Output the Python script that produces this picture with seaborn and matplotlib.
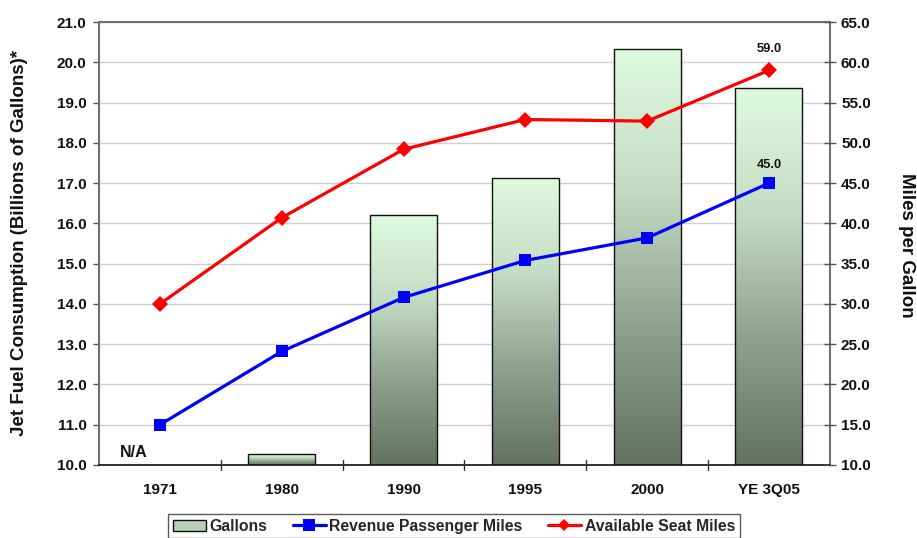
import numpy as np
import pandas as pd
import matplotlib
matplotlib.use("Agg")
import matplotlib.pyplot as plt
from matplotlib.colors import LinearSegmentedColormap
from matplotlib.lines import Line2D
from matplotlib.patches import Patch
import seaborn as sns

# Data
categories = ["1971", "1980", "1990", "1995", "2000", "YE 3Q05"]
gallons = [np.nan, 10.27, 16.22, 17.13, 20.32, 19.35]          # billions of gallons (1971 N/A)
revenue_passenger_miles = [15.0, 24.1, 30.8, 35.4, 38.2, 45.0]  # miles per gallon
available_seat_miles = [30.0, 40.7, 49.2, 52.9, 52.7, 59.0]     # miles per gallon
left_ticks = [10.0, 11.0, 12.0, 13.0, 14.0, 15.0, 16.0, 17.0, 18.0, 19.0, 20.0, 21.0]
right_ticks = [10.0, 15.0, 20.0, 25.0, 30.0, 35.0, 40.0, 45.0, 50.0, 55.0, 60.0, 65.0]

sns.set_theme(style="white")
plt.rcParams["font.family"] = ["Liberation Sans", "DejaVu Sans"]
plt.rcParams["font.weight"] = "bold"

df = pd.DataFrame({"category": categories, "gallons": gallons})
bar_df = df.dropna()

fig = plt.figure(figsize=(9.17, 5.38), dpi=100)
ax = fig.add_axes([0.108, 0.1357, 0.797, 0.8233])

sns.barplot(data=bar_df, x="category", y="gallons", order=categories,
            width=0.55, color="#cfe8cf", edgecolor="#111111", linewidth=1.0,
            ax=ax, zorder=2)

# Gradient fill for each bar: light green at the top fading to dark grey-green
grad_cmap = LinearSegmentedColormap.from_list(
    "gal", ["#637263", "#8ea18e", "#c4dcc4", "#defbde"])
gradient = np.linspace(0, 1, 256).reshape(-1, 1)
for patch in list(ax.patches):
    h = patch.get_height()
    if not np.isfinite(h):
        continue
    x0 = patch.get_x()
    w = patch.get_width()
    img = ax.imshow(gradient, cmap=grad_cmap, aspect="auto", origin="lower",
                    extent=[x0, x0 + w, 10.0, h], zorder=2.1, interpolation="bicubic")
    img.set_clip_path(patch)
    patch.set_facecolor("none")
    patch.set_zorder(2.2)
ax.set_aspect("auto")
ax.set_xlim(-0.5, len(categories) - 0.5)
ax.set_ylim(10.0, 21.0)

ax.text(-0.1, 10.12, "N/A", ha="right", va="bottom", fontsize=11.5, fontweight="bold",
        color="#111111", zorder=5)

# Left axis styling
ax.set_yticks(left_ticks)
ax.set_yticklabels([f"{v:.1f}" for v in left_ticks], fontsize=11, fontweight="bold")
ax.yaxis.grid(True, color="#d0d0d0", linewidth=1.0, zorder=0)
ax.set_axisbelow(True)
ax.tick_params(axis="y", direction="out", length=4, width=1, color="#555555", pad=5,
               labelcolor="#111111")
ax.set_xticks(range(len(categories)))
ax.set_xticklabels(categories, fontsize=11, fontweight="bold", color="#111111")
ax.tick_params(axis="x", length=0, pad=13)
for b in np.arange(0.5, len(categories) - 0.5, 1.0):
    ax.plot([b, b], [-0.012, 0.012], transform=ax.get_xaxis_transform(),
            color="#333333", lw=1, clip_on=False, zorder=6)
ax.set_xlabel("")
ax.set_ylabel("")
for side in ["left", "top", "right"]:
    ax.spines[side].set_visible(True)
    ax.spines[side].set_color("#707070")
    ax.spines[side].set_linewidth(1.5)
ax.spines["bottom"].set_color("#111111")
ax.spines["bottom"].set_linewidth(1.2)

fig.text(20 / 917, 1 - 243 / 538, "Jet Fuel Consumption (Billions of Gallons)*",
         rotation=90, ha="center", va="center", fontsize=13.5, fontweight="bold",
         color="#111111")

# Right axis: miles per gallon
ax2 = ax.twinx()
xpos = np.arange(len(categories))
line_df = pd.DataFrame({"x": xpos, "rpm": revenue_passenger_miles,
                        "asm": available_seat_miles})
sns.lineplot(data=line_df, x="x", y="asm", ax=ax2, color="#ff0000", linewidth=2.3,
             marker="D", markersize=8, markeredgewidth=0, zorder=4)
sns.lineplot(data=line_df, x="x", y="rpm", ax=ax2, color="#0000ff", linewidth=2.3,
             marker="s", markersize=9, markeredgewidth=0, zorder=4)
ax2.set_ylim(10.0, 65.0)
ax2.set_xlim(-0.5, len(categories) - 0.5)
ax2.set_yticks(right_ticks)
ax2.set_yticklabels([f"{v:.1f}" for v in right_ticks], fontsize=11, fontweight="bold")
ax2.tick_params(axis="y", direction="inout", length=8, width=1, color="#555555", pad=4,
                labelcolor="#111111")
ax2.grid(False)
ax2.set_xlabel("")
ax2.set_ylabel("")
for side in ["left", "top", "right", "bottom"]:
    ax2.spines[side].set_visible(False)

fig.text(906 / 917, 1 - 245 / 538, "Miles per Gallon", rotation=270,
         ha="center", va="center", fontsize=13.5, fontweight="bold", color="#111111")

# Value labels on the final points
last = len(categories) - 1
ax2.annotate(f"{available_seat_miles[last]:.1f}", (xpos[last], available_seat_miles[last]),
             xytext=(0, 11), textcoords="offset points", ha="center", va="bottom",
             fontsize=9.3, fontweight="bold", color="#111111")
ax2.annotate(f"{revenue_passenger_miles[last]:.1f}", (xpos[last], revenue_passenger_miles[last]),
             xytext=(0, 9), textcoords="offset points", ha="center", va="bottom",
             fontsize=9.3, fontweight="bold", color="#111111")

# Legend below the chart
handles = [
    Patch(facecolor="#b7cfb7", edgecolor="#111111", linewidth=1.0),
    Line2D([0], [0], color="#0000ff", lw=2.3, marker="s", markersize=8, markeredgewidth=0),
    Line2D([0], [0], color="#ff0000", lw=2.3, marker="D", markersize=6, markeredgewidth=0),
]
labels = ["Gallons", "Revenue Passenger Miles", "Available Seat Miles"]
leg = fig.legend(handles, labels, loc="upper center", bbox_to_anchor=(0.495, 0.0445),
                 ncol=3, frameon=True, fancybox=False,
                 prop={"weight": "bold", "size": 11.3}, handlelength=2.1,
                 handletextpad=0.25, columnspacing=1.6, borderpad=0.3,
                 borderaxespad=0.0)
leg.get_frame().set_edgecolor("#333333")
leg.get_frame().set_linewidth(1.0)

fig.savefig("out.png", dpi=100)
